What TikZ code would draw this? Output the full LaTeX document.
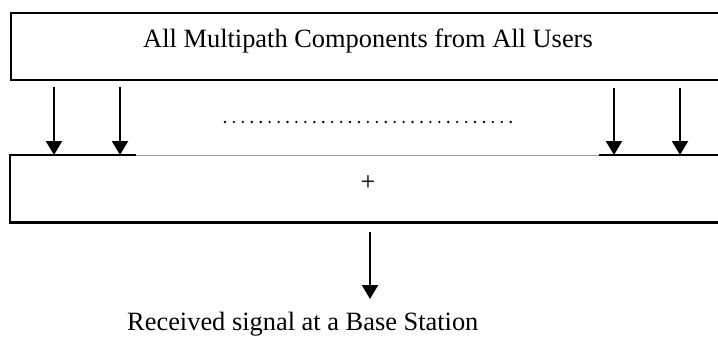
\documentclass[tikz,border=0pt]{standalone}
\usepackage{fontspec}
\setmainfont{Liberation Serif}
\usetikzlibrary{arrows.meta}
\begin{document}
\begin{tikzpicture}[x=1pt,y=-1pt,
  lbl/.style={font=\fontsize{26.4}{30}\selectfont, inner sep=0pt},
  boxline/.style={line width=2.2pt},
  thinline/.style={line width=1pt, draw=black!40},
  arr/.style={line width=2.2pt,-{Triangle[width=16pt,length=14pt]}},
  boxshape/.style={minimum width=712pt, minimum height=67pt, anchor=north west, inner sep=0pt},
  dots/.style={line width=2.6pt, line cap=round, dash pattern=on 0pt off 8.93pt}
  ]
\useasboundingbox (0,0) rectangle (718,338);
\clip (0,0) rectangle (718,338);
% top box
\node[draw, boxline, boxshape] (top) at (10,12) {};
\node[lbl, anchor=base] (toptext) at (368,47) {All Multipath Components from All Users};
% bottom box
\node[boxshape] (sum) at (10,155) {};
\coordinate (gapL) at (136,155);
\coordinate (gapR) at (599,155);
\draw[thinline] (gapL) -- (gapR);
\draw[boxline] (gapL) -- (sum.north west) -- (sum.south west) -- (sum.south east) -- (sum.north east) -- (gapR);
\node[lbl, anchor=base] (plus) at (368,190) {+};
% input arrows
\coordinate (s1) at (54,87);
\coordinate (s2) at (120,87);
\coordinate (s3) at (614,88);
\coordinate (s4) at (680,88);
\draw[arr] (s1) -- (s1 |- sum.north);
\draw[arr] (s2) -- (s2 |- sum.north);
\draw[arr] (s3) -- (s3 |- sum.north);
\draw[arr] (s4) -- (s4 |- sum.north);
% dots
\coordinate (d1) at (225,122);
\coordinate (d2) at (511,122);
\draw[dots] (d1) -- (d2);
% output
\coordinate (s5) at (370,232);
\coordinate (e5) at (370,299);
\draw[arr] (s5) -- (e5);
\node[lbl, anchor=base west] (out) at (127,330) {Received signal at a Base Station};
\end{tikzpicture}
\end{document}
